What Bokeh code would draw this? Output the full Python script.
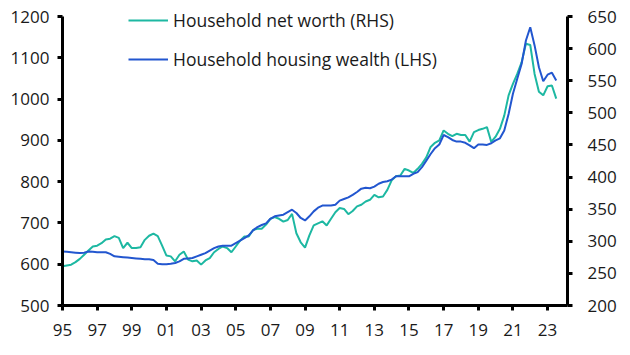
from bokeh.plotting import figure
from bokeh.models import Range1d, LinearAxis, FixedTicker, Legend, LegendItem, ColumnDataSource
from bokeh.embed import file_html
from bokeh.resources import INLINE

# Quarterly data, 1995Q1 .. 2023Q3
start_year = 1995
quarters_per_year = 4

# Household housing wealth (LHS)
housing = [
    631, 630, 629, 628,
    627, 628, 631, 630,
    629, 629, 629, 625,
    619, 618, 617, 616,
    615, 614, 613, 612,
    612, 610, 601, 600,
    600, 601, 603, 607,
    613, 614, 615, 619,
    623, 627, 633, 639,
    643, 645, 645, 645,
    651, 657, 663, 670,
    682, 690, 695, 699,
    710, 716, 718, 720,
    726, 732, 724, 712,
    706, 716, 728, 737,
    742, 742, 742, 744,
    754, 758, 762, 768,
    775, 783, 785, 784,
    788, 795, 799, 801,
    805, 813, 813, 813,
    813, 819, 823, 835,
    851, 867, 881, 890,
    913, 908, 901, 897,
    897, 894, 888, 881,
    890, 890, 889, 893,
    900, 905, 924, 964,
    1013, 1049, 1085, 1142,
    1174, 1130, 1077, 1043,
    1059, 1064, 1045,
]

# Household net worth (RHS)
net_worth = [
    261.1, 262.4, 263.6, 267.5,
    272.6, 279.1, 285.5, 291.9,
    293.2, 297.1, 302.9, 304.1,
    308.0, 305.4, 289.4, 297.7,
    289.4, 289.4, 290.6, 302.2,
    308.6, 311.9, 308.0, 293.2,
    277.8, 276.5, 268.8, 279.1,
    284.2, 271.4, 268.8, 270.1,
    263.6, 270.1, 273.9, 282.9,
    288.1, 291.9, 289.4, 282.9,
    291.9, 300.9, 307.4, 307.4,
    317.6, 319.6, 319.6, 326.0,
    335.0, 337.6, 335.0, 330.5,
    333.1, 342.7, 312.5, 298.4,
    290.0, 309.3, 324.7, 327.9,
    331.1, 324.7, 335.0, 345.3,
    351.7, 350.4, 342.1, 347.2,
    354.3, 356.9, 362.0, 364.6,
    372.3, 368.4, 369.7, 380.0,
    394.8, 401.2, 402.5, 412.8,
    410.2, 406.4, 412.8, 420.5,
    430.8, 446.9, 453.3, 457.1,
    472.6, 467.4, 463.6, 467.4,
    465.5, 465.5, 455.2, 470.0,
    473.2, 475.1, 477.7, 454.6,
    462.9, 475.1, 495.7, 527.2,
    545.2, 560.6, 578.6, 607.6,
    605.6, 560.6, 533.0, 527.2,
    541.4, 542.6, 522.1,
]

x_ticks = [1995, 1997, 1999, 2001, 2003, 2005, 2007, 2009, 2011, 2013, 2015, 2017, 2019, 2021, 2023]
x_tick_labels = ["95", "97", "99", "01", "03", "05", "07", "09", "11", "13", "15", "17", "19", "21", "23"]
left_ticks = [500, 600, 700, 800, 900, 1000, 1100, 1200]
right_ticks = [200, 250, 300, 350, 400, 450, 500, 550, 600, 650]
left_bounds = (500, 1200)
right_bounds = (200, 650)

TEAL = "#1db8a2"
BLUE = "#2256cf"
FONT = "Open Sans"
FS = "17px"

# plot area: axes occupy 289px of a 305px tall frame; the 16px above leaves room for the legend
AXIS_PX = 289
TOP_PAD_PX = 16
left_top = left_bounds[1] + TOP_PAD_PX * (left_bounds[1] - left_bounds[0]) / AXIS_PX
right_top = right_bounds[1] + TOP_PAD_PX * (right_bounds[1] - right_bounds[0]) / AXIS_PX

dates = [start_year + i / quarters_per_year for i in range(len(housing))]
src = ColumnDataSource(dict(x=dates, housing=housing, net=net_worth))

p = figure(frame_width=505, frame_height=AXIS_PX + TOP_PAD_PX, output_backend="svg", toolbar_location=None,
           x_range=Range1d(1995, 2024.15), y_range=Range1d(left_bounds[0], left_top),
           min_border_left=62, min_border_right=52, min_border_top=0, min_border_bottom=42,
           background_fill_color="white", border_fill_color="white")
p.extra_y_ranges = {"rhs": Range1d(right_bounds[0], right_top)}
p.outline_line_color = None
p.xgrid.visible = False
p.ygrid.visible = False

r_net = p.line("x", "net", source=src, y_range_name="rhs", line_color=TEAL, line_width=2)
r_house = p.line("x", "housing", source=src, line_color=BLUE, line_width=2)

def style(ax):
    ax.axis_line_width = 3
    ax.axis_line_color = "black"
    ax.major_tick_line_width = 3
    ax.major_tick_line_color = "black"
    ax.major_tick_out = 5
    ax.major_tick_in = 0
    ax.minor_tick_line_color = None
    ax.major_label_text_font = FONT
    ax.major_label_text_font_size = FS
    ax.major_label_text_color = "#1a1a1a"

xa = p.xaxis[0]
xa.ticker = FixedTicker(ticks=x_ticks)
xa.major_label_overrides = {t: l for t, l in zip(x_ticks, x_tick_labels)}
style(xa)
xa.major_label_standoff = 13

ya = p.yaxis[0]
ya.ticker = FixedTicker(ticks=left_ticks)
ya.bounds = left_bounds
style(ya)
ya.major_label_standoff = 8

ra = LinearAxis(y_range_name="rhs", ticker=FixedTicker(ticks=right_ticks), bounds=right_bounds)
style(ra)
ra.major_label_standoff = 15
p.add_layout(ra, "right")

legend = Legend(items=[LegendItem(label="Household net worth (RHS)", renderers=[r_net]),
                       LegendItem(label="Household housing wealth (LHS)", renderers=[r_house])],
                location=(66, 234), orientation="vertical",
                border_line_color=None, background_fill_alpha=0,
                padding=0, margin=0, spacing=15, glyph_width=40, glyph_height=20,
                label_height=20, label_standoff=5,
                label_text_font=FONT, label_text_font_size="17.5px", label_text_color="#1a1a1a")
p.add_layout(legend)

open("out.html", "w").write(file_html(p, INLINE))
